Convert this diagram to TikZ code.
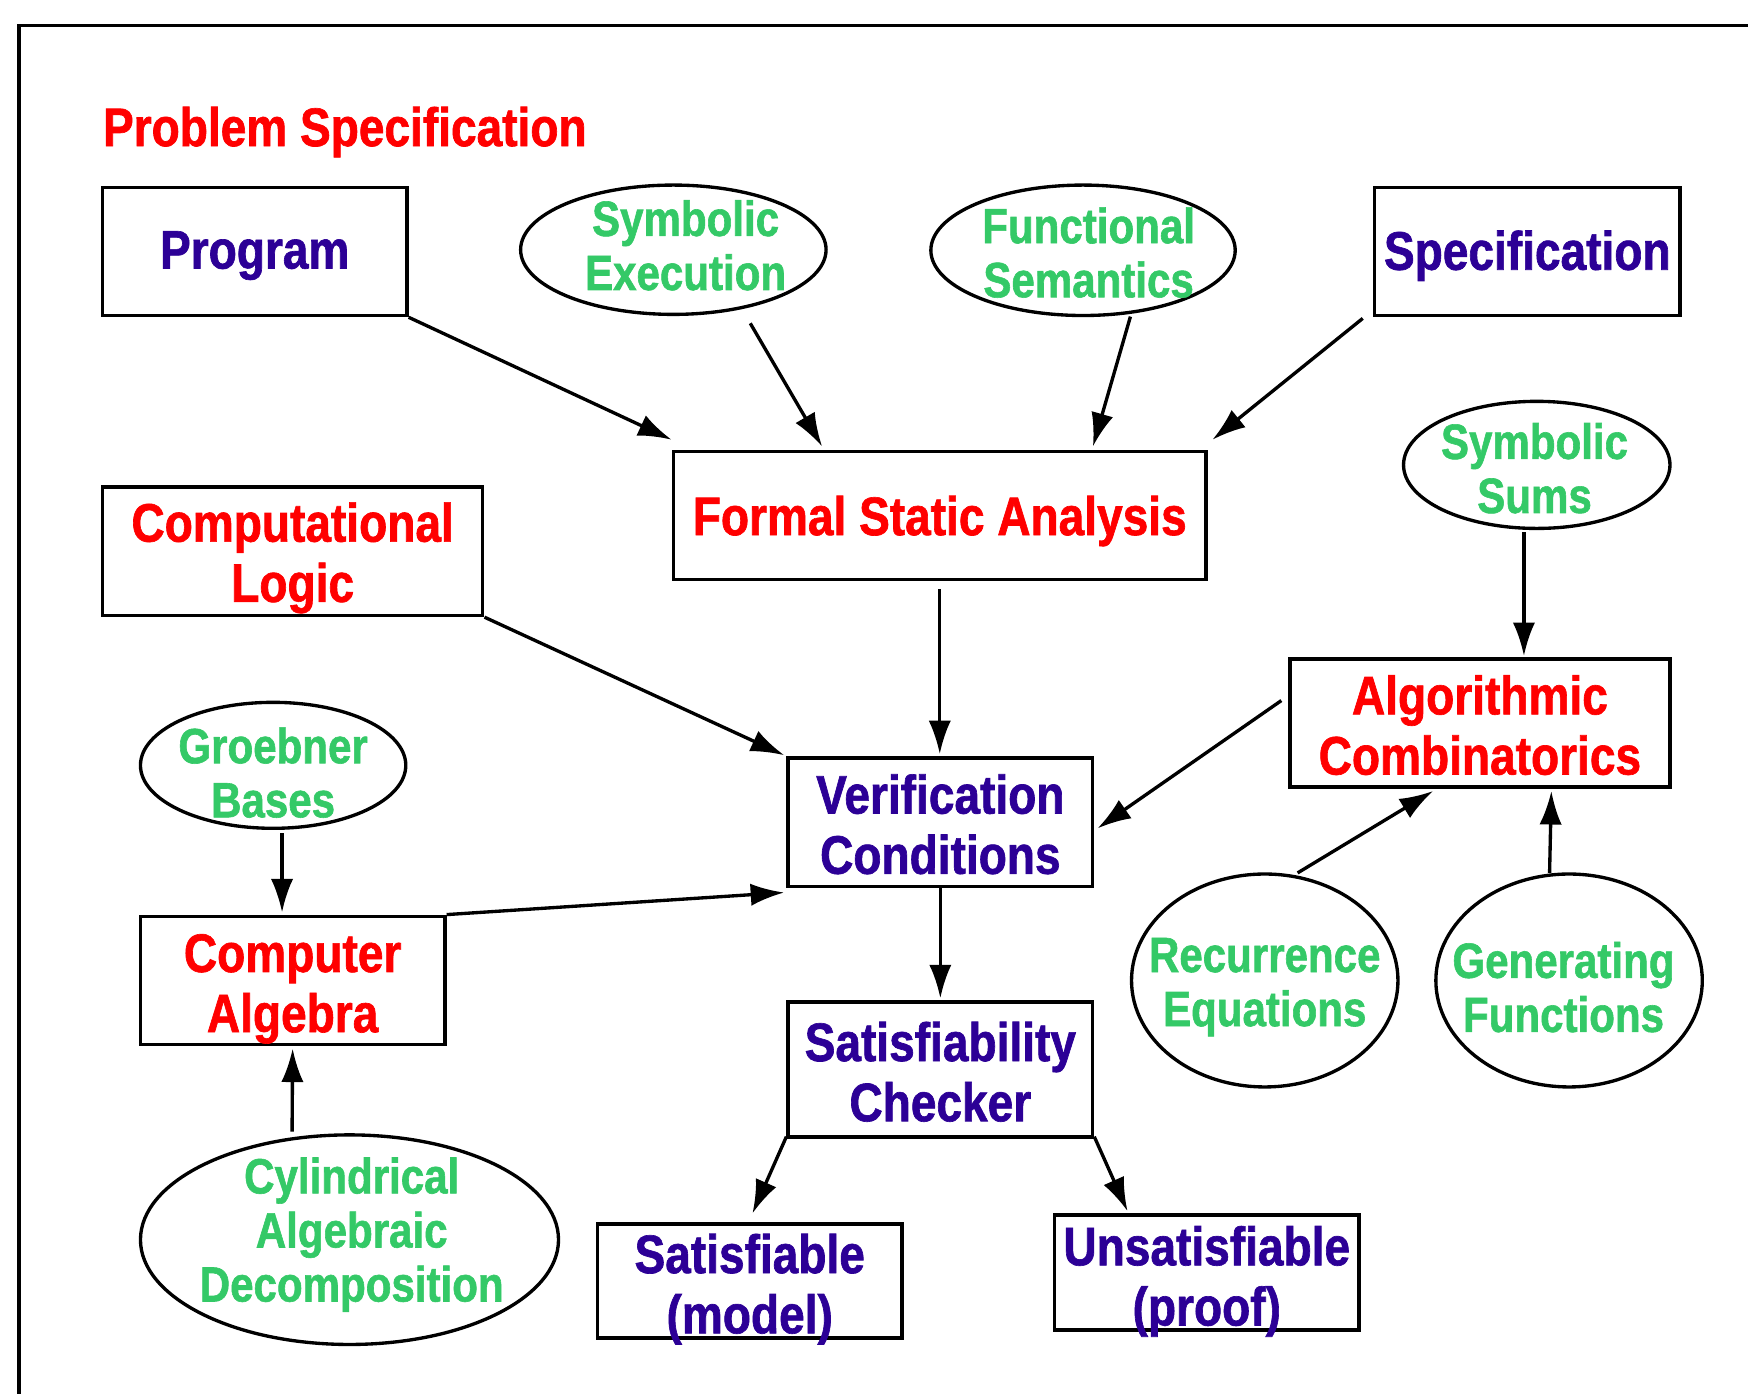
\documentclass[tikz,border=0pt]{standalone}
\usepackage{fontspec}
\newfontfamily\hv{Liberation Sans}[FakeStretch=0.85,FakeBold=1.2]
\usetikzlibrary{arrows.meta,calc,shapes.geometric}
\definecolor{navy}{RGB}{44,0,150}
\definecolor{lgreen}{RGB}{52,201,103}
\definecolor{pred}{RGB}{255,0,0}
\newcommand\dnstrut[1]{\rule{0pt}{#1pt}}
\begin{document}
\begin{tikzpicture}[x=0.5pt,y=-0.5pt,
  boxfont/.style={font=\hv\bfseries\fontsize{24.3pt}{27pt}\selectfont},
  greenfont/.style={font=\hv\bfseries\fontsize{22.2pt}{24.25pt}\selectfont},
  box/.style={draw,line width=1.6pt,rectangle,inner xsep=0pt,inner ysep=-12pt,align=center,boxfont},
  redbox/.style={box,text=pred},
  bluebox/.style={box,text=navy},
  oval/.style={draw,line width=1.5pt,ellipse,inner sep=0pt},
  gtext/.style={greenfont,text=lgreen,align=center,inner sep=0pt},
  conn/.style={line width=1.5pt,-{Latex[length=15pt,width=10pt]}}
]
\useasboundingbox (0,0) rectangle (1568,1250);
\coordinate (ftl) at (17,23);
\coordinate (ftr) at (1568,23);
\coordinate (fbl) at (17,1250);
\draw[line width=1.5pt] (ftr) -- (ftl) -- (fbl);

\node[anchor=base west,inner sep=0pt,boxfont,text=pred] (title) at (92,131) {Problem Specification};

% boxes (sizes in pt = shown px / 2)
\node[bluebox,minimum width=136.5pt,minimum height=57.5pt] (prog) at (228.5,225.5) {\dnstrut{20.5}Program};
\node[bluebox,minimum width=137pt,minimum height=57.5pt] (spec) at (1370,225.5) {\dnstrut{21.5}Specification};
\node[redbox,minimum width=239pt,minimum height=57.5pt] (fsa) at (843,462.5) {\dnstrut{22.5}Formal Static Analysis};
\node[redbox,minimum width=170.5pt,minimum height=57.5pt] (clog) at (262.5,494.5) {\dnstrut{23.5}Computational\\Logic};
\node[redbox,minimum width=170.5pt,minimum height=57.5pt] (alg) at (1327.5,648.5) {\dnstrut{19.5}Algorithmic\\Combinatorics};
\node[bluebox,minimum width=136.5pt,minimum height=57.5pt] (vc) at (843.5,737.5) {\dnstrut{19.5}Verification\\Conditions};
\node[redbox,minimum width=136.5pt,minimum height=57.5pt] (calg) at (262.5,879.5) {\dnstrut{24.5}Computer\\Algebra};
\node[bluebox,minimum width=136.5pt,minimum height=60.5pt] (sat) at (843.5,959.5) {\dnstrut{19.5}Satisfiability\\Checker};
\node[bluebox,minimum width=136.5pt,minimum height=51pt] (satm) at (672.5,1149) {\dnstrut{25}Satisfiable\\(model)};
\node[bluebox,minimum width=136.5pt,minimum height=51.5pt] (unsat) at (1082.5,1141.5) {\dnstrut{25.5}Unsatisfiable\\(proof)};

% ellipses
\node[oval,minimum width=137pt,minimum height=58pt,
  label={[gtext,name=symxt,xshift=5.5pt,yshift=2pt]center:Symbolic\\Execution}] (symx) at (604,224) {};
\node[oval,minimum width=136.5pt,minimum height=58.5pt,
  label={[gtext,name=funst,xshift=2.5pt,yshift=-1pt]center:Functional\\Semantics}] (funs) at (971.5,224.5) {};
\node[oval,minimum width=119.5pt,minimum height=57pt,
  label={[gtext,name=ssumt,xshift=-1pt,yshift=-1.5pt]center:Symbolic\\Sums}] (ssum) at (1378.5,417) {};
\node[oval,minimum width=119pt,minimum height=56.5pt,
  label={[gtext,name=grobt,yshift=-3.25pt]center:Groebner\\Bases}] (grob) at (245,686.5) {};
\node[oval,minimum width=119.5pt,minimum height=95.5pt,
  label={[gtext,name=rect,yshift=-3pt]center:Recurrence\\Equations}] (rec) at (1134.5,879.5) {};
\node[oval,minimum width=119.5pt,minimum height=95.5pt,
  label={[gtext,name=gent,xshift=-2.5pt,yshift=-3pt]center:Generating\\Functions}] (gen) at (1407.5,879.5) {};
\node[oval,minimum width=187.5pt,minimum height=94pt,
  label={[gtext,name=cadt,xshift=1pt,yshift=2.25pt]center:Cylindrical\\Algebraic\\Decomposition}] (cad) at (313.5,1112) {};

% connectors
\draw[conn] (prog.south east) -- ($(fsa.north west)+(0,-9)$);
\draw[conn] ($(symx.center)+(69,66)$) -- ($(fsa.north west)+(135,-3)$);
\draw[conn] ($(funs.center)+(42.5,59.5)$) -- ($(fsa.north west)+(378,-3)$);
\draw[conn] ($(spec.south west)+(-9,1)$) -- ($(fsa.north east)+(4,-9)$);
\draw[conn] ($(fsa.south)+(0,7)$) -- ($(vc.north)+(-0.5,-2)$);
\draw[conn] (clog.south east) -- ($(vc.north west)+(-2,-1)$);
\draw[conn] ($(ssum.south)+(-11.5,2)$) -- ($(alg.north)+(39.5,-1)$);
\draw[conn] ($(alg.north west)+(-6,39)$) -- ($(vc.east)+(3,5.5)$);
\draw[conn] ($(grob.south)+(8,3)$) -- ($(calg.north)+(-9.5,-2)$);
\draw[conn] (calg.north east) -- ($(vc.south west)+(-2,4)$);
\draw[conn] (vc.south) -- ($(sat.north)+(0,-2)$);
\draw[conn] ($(rec.center)+(29.5,-96.5)$) -- ($(alg.south west)+(130,2)$);
\draw[conn] ($(gen.center)+(-17.5,-96.5)$) -- ($(alg.south east)+(-108,2)$);
\draw[conn] ($(cad.center)+(-51.5,-97)$) -- ($(calg.south)+(0,2)$);
\draw[conn] ($(sat.south west)+(0,-2)$) -- ($(satm.north)+(2.5,-8)$);
\draw[conn] ($(sat.south east)+(0,-2)$) -- ($(unsat.north west)+(67,-2)$);
\end{tikzpicture}
\end{document}
